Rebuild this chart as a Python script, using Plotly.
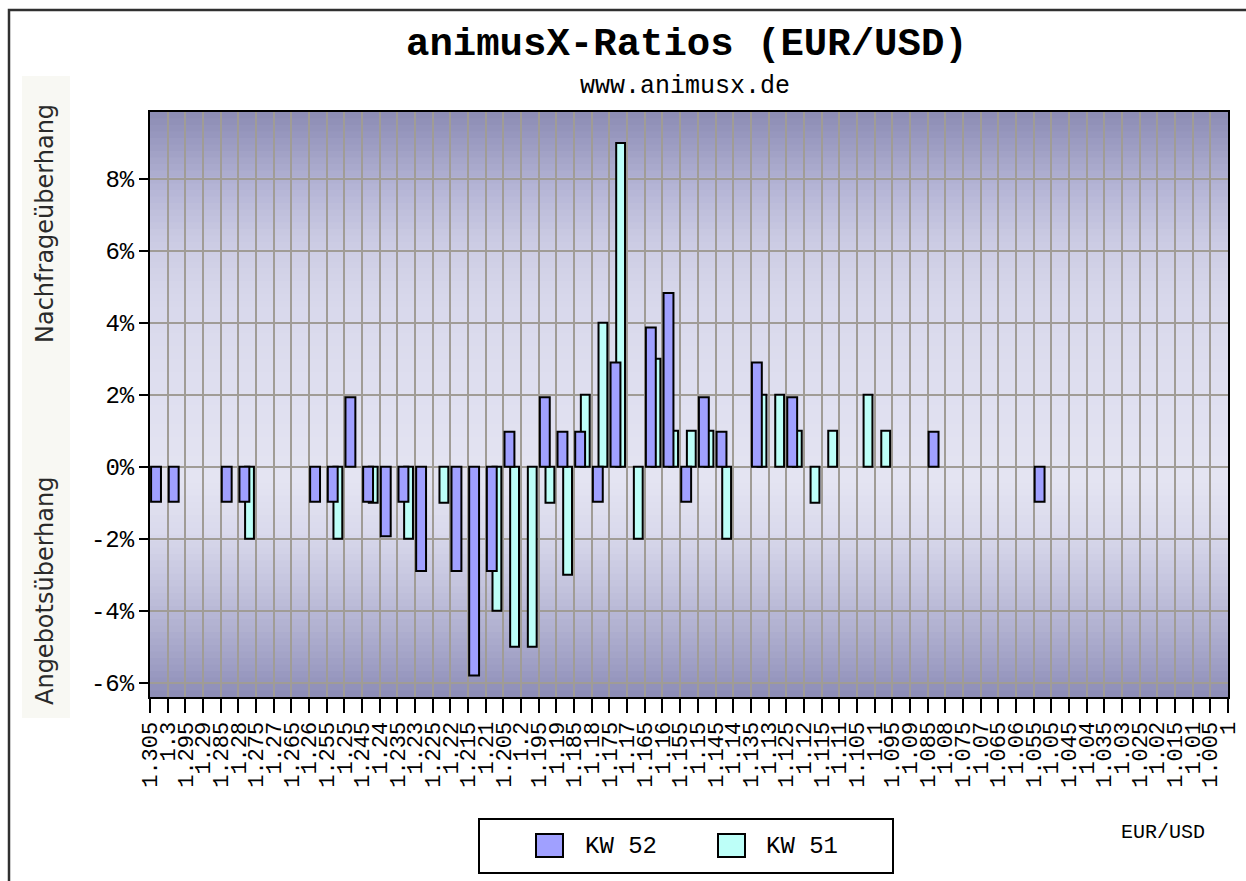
import plotly.graph_objects as go

# ---------------- data ----------------
price_labels = [
    "1.305", "1.3", "1.295", "1.29", "1.285", "1.28", "1.275", "1.27", "1.265", "1.26",
    "1.255", "1.25", "1.245", "1.24", "1.235", "1.23", "1.225", "1.22", "1.215", "1.21",
    "1.205", "1.2", "1.195", "1.19", "1.185", "1.18", "1.175", "1.17", "1.165", "1.16",
    "1.155", "1.15", "1.145", "1.14", "1.135", "1.13", "1.125", "1.12", "1.115", "1.11",
    "1.105", "1.1", "1.095", "1.09", "1.085", "1.08", "1.075", "1.07", "1.065", "1.06",
    "1.055", "1.05", "1.045", "1.04", "1.035", "1.03", "1.025", "1.02", "1.015", "1.01",
    "1.005", "1",
]

# one value per price cell (61 cells between the 62 tick labels); None = no bar
kw52 = [
    -0.97, -0.97, None, None, -0.97, -0.97, None, None, None, -0.97,
    -0.97, 1.93, -0.97, -1.93, -0.97, -2.9, None, -2.9, -5.8, -2.9,
    0.97, None, 1.93, 0.97, 0.97, -0.97, 2.9, None, 3.87, 4.83,
    -0.97, 1.93, 0.97, None, 2.9, None, 1.93, None, None, None,
    None, None, None, None, 0.97, None, None, None, None, None,
    -0.97, None, None, None, None, None, None, None, None, None,
    None,
]
kw51 = [
    None, None, None, None, None, -2, None, None, None, None,
    -2, None, -1, None, -2, None, -1, None, None, -4,
    -5, -5, -1, -3, 2, 4, 9, -2, 3, 1,
    1, 1, -2, None, 2, 2, 1, -1, 1, None,
    2, 1, None, None, None, None, None, None, None, None,
    None, None, None, None, None, None, None, None, None, None,
    None,
]
series_names = ["KW 52", "KW 51"]
y_ticks = [-6, -4, -2, 0, 2, 4, 6, 8]
y_ticktext = ["-6%", "-4%", "-2%", "0%", "2%", "4%", "6%", "8%"]

cells = list(range(len(kw52)))

# ---------------- geometry (screen pixels -> paper) ----------------
OFF = 0                      # body margin is removed by the post script
W, H = 1246, 881
L, R, T, B = 150, 18, 112, 184
PW, PH = W - L - R, H - T - B


def px(xs):
    return (xs - OFF - L) / PW


def py(ys):
    return (H - B - (ys - OFF)) / PH


COL52 = "#a0a0ff"
COL51 = "#bdfff8"
MONO = "Liberation Mono"

fig = go.Figure()
fig.add_trace(go.Bar(
    x=cells, y=kw51, name=series_names[1], offset=0.38, width=0.5,
    marker=dict(color=COL51, line=dict(color="black", width=2)), showlegend=False,
))
fig.add_trace(go.Bar(
    x=cells, y=kw52, name=series_names[0], offset=0.06, width=0.56,
    marker=dict(color=COL52, line=dict(color="black", width=2)), showlegend=False,
))

shapes = []
# vertical gradient background of the plot area (stops in screen y)
stops = [
    (112, (0x8c, 0x8c, 0xb4)), (140, (0x9a, 0x9a, 0xc0)), (190, (0xb6, 0xb6, 0xd6)),
    (240, (0xcb, 0xcb, 0xe3)), (300, (0xd8, 0xd8, 0xeb)), (380, (0xde, 0xde, 0xef)),
    (480, (0xe4, 0xe4, 0xf2)), (530, (0xda, 0xda, 0xec)), (580, (0xc6, 0xc6, 0xdf)),
    (630, (0xb0, 0xb0, 0xd0)), (670, (0x9c, 0x9c, 0xc2)), (697, (0x8c, 0x8c, 0xb6)),
]


def color_at(ys):
    for (y0, c0), (y1, c1) in zip(stops[:-1], stops[1:]):
        if y0 <= ys <= y1:
            t = (ys - y0) / (y1 - y0)
            return "rgb(%d,%d,%d)" % tuple(round(a + (b - a) * t) for a, b in zip(c0, c1))
    return "rgb(%d,%d,%d)" % stops[-1][1]


nb = 90
top_s = T + OFF
for i in range(nb):
    ytop = top_s + PH * i / nb
    ybot = top_s + PH * (i + 1) / nb
    shapes.append(dict(
        type="rect", xref="x domain", yref="y domain", layer="below",
        x0=0, x1=1, y0=1 - (i + 1) / nb - 0.002, y1=1 - i / nb,
        fillcolor=color_at((ytop + ybot) / 2), line=dict(width=0),
    ))

# outer frame
shapes.append(dict(type="rect", xref="paper", yref="paper",
                   x0=px(9), x1=px(1260), y0=py(900), y1=py(10),
                   line=dict(color="#303030", width=2.5), fillcolor="rgba(0,0,0,0)"))
# faint panel behind the y-axis titles
shapes.append(dict(type="rect", xref="paper", yref="paper", layer="below",
                   x0=px(22), x1=px(70), y0=py(718), y1=py(76),
                   line=dict(width=0), fillcolor="#f8f8f3"))
# legend box
shapes.append(dict(type="rect", xref="paper", yref="paper",
                   x0=px(479), x1=px(893), y0=py(873), y1=py(819),
                   line=dict(color="black", width=2), fillcolor="white"))
shapes.append(dict(type="rect", xref="paper", yref="paper",
                   x0=px(536), x1=px(563), y0=py(857), y1=py(834),
                   line=dict(color="black", width=2), fillcolor=COL52))
shapes.append(dict(type="rect", xref="paper", yref="paper",
                   x0=px(718), x1=px(745), y0=py(857), y1=py(834),
                   line=dict(color="black", width=2), fillcolor=COL51))

annotations = [
    dict(text="<b>animusX-Ratios (EUR/USD)</b>", x=px(687), y=py(45), xref="paper", yref="paper",
         showarrow=False, font=dict(family=MONO, size=39, color="black"), xanchor="center", yanchor="middle"),
    dict(text="www.animusx.de", x=px(685), y=py(87), xref="paper", yref="paper",
         showarrow=False, font=dict(family=MONO, size=25, color="black"), xanchor="center", yanchor="middle"),
    dict(text="Nachfrageüberhang", x=px(45), y=py(224), xref="paper", yref="paper", textangle=-90,
         showarrow=False, font=dict(family="DejaVu Sans", size=24, color="#2a2a2a"),
         xanchor="center", yanchor="middle"),
    dict(text="Angebotsüberhang", x=px(45), y=py(591), xref="paper", yref="paper", textangle=-90,
         showarrow=False, font=dict(family="DejaVu Sans", size=24, color="#2a2a2a"),
         xanchor="center", yanchor="middle"),
    dict(text="EUR/USD", x=px(1163), y=py(832), xref="paper", yref="paper",
         showarrow=False, font=dict(family=MONO, size=20, color="black"), xanchor="center", yanchor="middle"),
    dict(text=series_names[0], x=px(583), y=py(846), xref="paper", yref="paper",
         showarrow=False, font=dict(family=MONO, size=24, color="black"), xanchor="left", yanchor="middle"),
    dict(text=series_names[1], x=px(764), y=py(846), xref="paper", yref="paper",
         showarrow=False, font=dict(family=MONO, size=24, color="black"), xanchor="left", yanchor="middle"),
]

n_ticks = len(price_labels)
fig.update_layout(
    width=W, height=H,
    margin=dict(l=L, r=R, t=T, b=B, pad=0, autoexpand=False),
    paper_bgcolor="white",
    plot_bgcolor="#dcdcee",
    barmode="overlay",
    showlegend=False,
    hovermode=False,
    shapes=shapes,
    annotations=annotations,
    xaxis=dict(
        range=[-0.001, n_ticks - 1 + 0.001],
        tickmode="array", tickvals=list(range(n_ticks)), ticktext=price_labels,
        tickangle=-90, tickfont=dict(family=MONO, size=22, color="black"),
        ticklabeloverflow="allow", automargin=False,
        ticks="outside", ticklen=14, tickwidth=2, tickcolor="black",
        showgrid=True, gridcolor="#a09c96", gridwidth=2,
        showline=True, linecolor="black", linewidth=2, mirror=True,
        zeroline=False, fixedrange=True,
    ),
    yaxis=dict(
        range=[-6.4, 9.86], automargin=False,
        tickmode="array", tickvals=y_ticks, ticktext=y_ticktext,
        tickfont=dict(family=MONO, size=24, color="black"),
        ticks="outside", ticklen=9, tickwidth=2, tickcolor="black",
        showgrid=True, gridcolor="#a09c96", gridwidth=2,
        showline=True, linecolor="black", linewidth=2, mirror=True,
        zeroline=False, fixedrange=True,
    ),
)

fig.write_html(
    "out.html",
    config={"displayModeBar": False, "staticPlot": True},
    post_script="document.body.style.margin='0';document.body.style.overflow='hidden';",
)
